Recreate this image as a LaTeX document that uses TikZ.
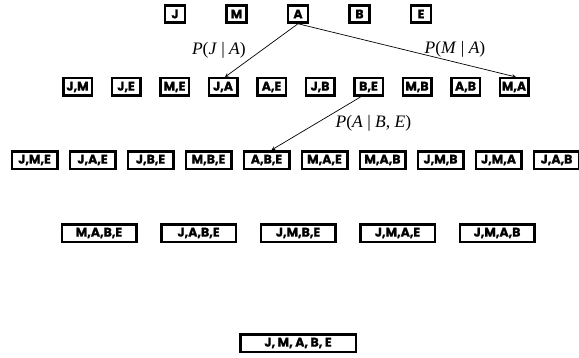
\documentclass[tikz,border=0pt]{standalone}
\usepackage{fontspec}
\setmainfont{Liberation Serif}
\newfontfamily\boxfont{Poppins}[BoldFeatures={FakeBold=1.2}]
\usetikzlibrary{arrows, positioning}

\begin{document}
\begin{tikzpicture}[
    x=1pt, y=1pt,
    varbox/.style={rectangle, draw=black, line width=2.5pt, inner sep=0pt, align=center, font=\boxfont\bfseries\fontsize{12.5}{14}\selectfont},
    onebox/.style={varbox, text width=20pt, minimum height=17pt},
    twobox/.style={varbox, text width=28.5pt, minimum height=17.5pt},
    threebox/.style={varbox, text width=45.5pt, minimum height=17.5pt},
    fourbox/.style={varbox, text width=74.5pt, minimum height=17.5pt},
    fivebox/.style={varbox, text width=115.5pt, minimum height=17.5pt},
    arrow/.style={->, >=stealth, draw=black, line width=0.7pt},
    problabel/.style={font=\fontsize{17.5}{19}\selectfont}
]
    \useasboundingbox (0,0) rectangle (579,357);

    % Row 1: single variables
    \node[onebox] (j) at (175,343) {J};
    \node[onebox, right=39pt of j] (m) {M};
    \node[onebox, right=39pt of m] (a) {A};
    \node[onebox, right=39pt of a] (b) {B};
    \node[onebox, right=39pt of b] (e) {E};

    % Row 2: pairs
    \node[twobox] (jm) at (77.5,270) {J,M};
    \node[twobox, right=17.5pt of jm] (je) {J,E};
    \node[twobox, right=17.5pt of je] (me) {M,E};
    \node[twobox, right=17.5pt of me] (ja) {J,A};
    \node[twobox, right=17.5pt of ja] (ae) {A,E};
    \node[twobox, right=17.5pt of ae] (jb) {J,B};
    \node[twobox, right=17.5pt of jb] (be) {B,E};
    \node[twobox, right=17.5pt of be] (mb) {M,B};
    \node[twobox, right=17.5pt of mb] (ab) {A,B};
    \node[twobox, right=17.5pt of ab] (ma) {M,A};

    % Row 3: triples
    \node[threebox] (jme) at (34.5,197) {J,M,E};
    \node[threebox, right=10pt of jme] (jae) {J,A,E};
    \node[threebox, right=10pt of jae] (jbe) {J,B,E};
    \node[threebox, right=10pt of jbe] (mbe) {M,B,E};
    \node[threebox, right=10pt of mbe] (abe) {A,B,E};
    \node[threebox, right=10pt of abe] (mae) {M,A,E};
    \node[threebox, right=10pt of mae] (mab) {M,A,B};
    \node[threebox, right=10pt of mab] (jmb) {J,M,B};
    \node[threebox, right=10pt of jmb] (jma) {J,M,A};
    \node[threebox, right=10pt of jma] (jab) {J,A,B};

    % Row 4: quadruples
    \node[fourbox] (mabe) at (99,124) {M,A,B,E};
    \node[fourbox, right=22.5pt of mabe] (jabe) {J,A,B,E};
    \node[fourbox, right=22.5pt of jabe] (jmbe) {J,M,B,E};
    \node[fourbox, right=22.5pt of jmbe] (jmae) {J,M,A,E};
    \node[fourbox, right=22.5pt of jmae] (jmab) {J,M,A,B};

    % Row 5: all variables
    \node[fivebox] (jmabe) at (298,14) {J,\kern2.5pt M,\kern2.5pt A,\kern2.5pt B,\kern2.5pt E};

    % Connections
    \draw[arrow] (a.south) -- node[problabel, midway, left=12pt] {\textit{P}(\textit{J} | \textit{A})} ([xshift=2pt]ja.north);
    \draw[arrow] (a.south) -- node[problabel, pos=0.72, above=1pt] {\textit{P}(\textit{M} | \textit{A})} ([xshift=2pt]ma.north);
    \draw[arrow] ([xshift=-8pt]be.south) -- node[problabel, midway, right=16pt] {\textit{P}(\textit{A} | \textit{B}, \textit{E})} ([xshift=5pt]abe.north);
\end{tikzpicture}
\end{document}
